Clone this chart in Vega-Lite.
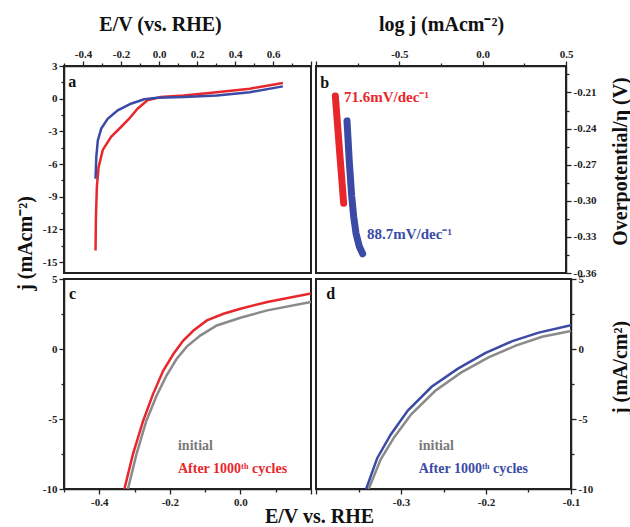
{
  "$schema": "https://vega.github.io/schema/vega-lite/v6.json",
  "padding": {"left": 14, "top": 13, "right": 2, "bottom": 0},
  "background": "white",
  "bounds": "flush",
  "align": "each",
  "columns": 2,
  "spacing": {"row": 6, "column": 5},
  "config": {
    "view": {"stroke": "#222", "strokeWidth": 2},
    "axis": {
      "labelFont": "Liberation Serif", "labelFontWeight": "bold", "labelFontSize": 11, "labelColor": "#222",
      "titleFont": "Liberation Serif", "titleFontWeight": "bold", "titleFontSize": 20, "titleColor": "#111",
      "grid": false, "domainColor": "#222", "domainWidth": 1.5, "tickColor": "#222", "tickWidth": 1.3,
      "labelOverlap": false, "labelFlush": false, "labelPadding": 2
    },
    "text": {"font": "Liberation Serif", "fontWeight": "bold"}
  },
  "datasets": {
    "a": [
      {"series": "A", "E": -0.334, "j": -13.93},
      {"series": "A", "E": -0.332, "j": -10.9},
      {"series": "A", "E": -0.327, "j": -8.1},
      {"series": "A", "E": -0.318, "j": -6.3},
      {"series": "A", "E": -0.296, "j": -4.7},
      {"series": "A", "E": -0.252, "j": -3.5},
      {"series": "A", "E": -0.2, "j": -2.6},
      {"series": "A", "E": -0.157, "j": -1.84},
      {"series": "A", "E": -0.113, "j": -0.92},
      {"series": "A", "E": -0.061, "j": -0.15},
      {"series": "A", "E": 0.009, "j": 0.15},
      {"series": "A", "E": 0.13, "j": 0.3},
      {"series": "A", "E": 0.304, "j": 0.6},
      {"series": "A", "E": 0.478, "j": 0.92},
      {"series": "A", "E": 0.652, "j": 1.44},
      {"series": "B", "E": -0.334, "j": -7.35},
      {"series": "B", "E": -0.33, "j": -5.36},
      {"series": "B", "E": -0.322, "j": -3.83},
      {"series": "B", "E": -0.304, "j": -2.75},
      {"series": "B", "E": -0.27, "j": -1.84},
      {"series": "B", "E": -0.217, "j": -1.07},
      {"series": "B", "E": -0.148, "j": -0.46},
      {"series": "B", "E": -0.078, "j": -0.06},
      {"series": "B", "E": -0.009, "j": 0.09},
      {"series": "B", "E": 0.13, "j": 0.15},
      {"series": "B", "E": 0.304, "j": 0.3},
      {"series": "B", "E": 0.478, "j": 0.6},
      {"series": "B", "E": 0.652, "j": 1.13}
    ],
    "b": [
      {"series": "A", "logj": -0.884, "eta": -0.213},
      {"series": "A", "logj": -0.859, "eta": -0.258},
      {"series": "A", "logj": -0.834, "eta": -0.302},
      {"series": "B", "logj": -0.814, "eta": -0.2336},
      {"series": "B", "logj": -0.8, "eta": -0.268},
      {"series": "B", "logj": -0.786, "eta": -0.296},
      {"series": "B", "logj": -0.774, "eta": -0.313},
      {"series": "B", "logj": -0.76, "eta": -0.327},
      {"series": "B", "logj": -0.74, "eta": -0.338},
      {"series": "B", "logj": -0.72, "eta": -0.344}
    ],
    "c": [
      {"series": "A initial", "E": -0.319, "j": -10.02},
      {"series": "A initial", "E": -0.295, "j": -7.55},
      {"series": "A initial", "E": -0.267, "j": -5.16},
      {"series": "A initial", "E": -0.238, "j": -3.36},
      {"series": "A initial", "E": -0.21, "j": -1.92},
      {"series": "A initial", "E": -0.181, "j": -0.72},
      {"series": "A initial", "E": -0.152, "j": 0.17},
      {"series": "A initial", "E": -0.114, "j": 0.96},
      {"series": "A initial", "E": -0.067, "j": 1.68},
      {"series": "A initial", "E": 0.0, "j": 2.23},
      {"series": "A initial", "E": 0.076, "j": 2.76},
      {"series": "A initial", "E": 0.2, "j": 3.36},
      {"series": "A after", "E": -0.329, "j": -10.02},
      {"series": "A after", "E": -0.305, "j": -7.55},
      {"series": "A after", "E": -0.276, "j": -5.16},
      {"series": "A after", "E": -0.248, "j": -3.24},
      {"series": "A after", "E": -0.219, "j": -1.56},
      {"series": "A after", "E": -0.19, "j": -0.36},
      {"series": "A after", "E": -0.162, "j": 0.6},
      {"series": "A after", "E": -0.133, "j": 1.32},
      {"series": "A after", "E": -0.095, "j": 2.04},
      {"series": "A after", "E": -0.048, "j": 2.52},
      {"series": "A after", "E": 0.0, "j": 2.88},
      {"series": "A after", "E": 0.076, "j": 3.36},
      {"series": "A after", "E": 0.2, "j": 3.96}
    ],
    "d": [
      {"series": "B initial", "E": -0.338, "j": -10.0},
      {"series": "B initial", "E": -0.324, "j": -7.9},
      {"series": "B initial", "E": -0.308, "j": -6.3},
      {"series": "B initial", "E": -0.288, "j": -4.66},
      {"series": "B initial", "E": -0.26, "j": -3.0},
      {"series": "B initial", "E": -0.229, "j": -1.67},
      {"series": "B initial", "E": -0.197, "j": -0.6},
      {"series": "B initial", "E": -0.165, "j": 0.24},
      {"series": "B initial", "E": -0.134, "j": 0.87},
      {"series": "B initial", "E": -0.1, "j": 1.29},
      {"series": "B after", "E": -0.341, "j": -10.0},
      {"series": "B after", "E": -0.328, "j": -7.8},
      {"series": "B after", "E": -0.312, "j": -6.1},
      {"series": "B after", "E": -0.292, "j": -4.4},
      {"series": "B after", "E": -0.264, "j": -2.7},
      {"series": "B after", "E": -0.233, "j": -1.4},
      {"series": "B after", "E": -0.201, "j": -0.3},
      {"series": "B after", "E": -0.169, "j": 0.56},
      {"series": "B after", "E": -0.138, "j": 1.17},
      {"series": "B after", "E": -0.1, "j": 1.7}
    ],
    "labels_a": [{"text": "a", "E": -0.478, "j": 1.55}],
    "labels_b": [
      {"text": "b", "logj": -0.975, "eta": -0.202, "kind": "panel"},
      {"text": "71.6mV/dec⁻¹", "logj": -0.832, "eta": -0.2135, "kind": "A"},
      {"text": "88.7mV/dec⁻¹", "logj": -0.694, "eta": -0.3276, "kind": "B"}
    ],
    "labels_c": [
      {"text": "c", "E": -0.486, "j": 3.93, "kind": "panel"},
      {"text": "initial", "E": -0.177, "j": -6.93, "kind": "initial"},
      {"text": "After 1000ᵗʰ cycles", "E": -0.177, "j": -8.57, "kind": "after"}
    ],
    "labels_d": [
      {"text": "d", "E": -0.388, "j": 3.93, "kind": "panel"},
      {"text": "initial", "E": -0.279, "j": -6.93, "kind": "initial"},
      {"text": "After 1000ᵗʰ cycles", "E": -0.279, "j": -8.57, "kind": "after"}
    ]
  },
  "concat": [
    {
      "width": 247, "height": 207,
      "encoding": {
        "x": {"field": "E", "type": "quantitative", "scale": {"domain": [-0.5, 0.8], "nice": false, "zero": false},
          "axis": {"orient": "top", "title": "E/V (vs. RHE)", "titleX": 96, "titleY": -42, "titleBaseline": "middle",
            "values": [-0.5, -0.4, -0.3, -0.2, -0.1, 0, 0.1, 0.2, 0.3, 0.4, 0.5, 0.6, 0.7, 0.8],
            "labelExpr": "abs(round(datum.value*10))%2==0 && datum.value<0.75 ? replace(format(datum.value,'.1f'),'−','-') : ''",
            "tickSize": {"condition": {"test": "abs(round(datum.value*10))%2==0", "value": 5}, "value": 3}}},
        "y": {"field": "j", "type": "quantitative", "scale": {"domain": [-16, 3], "nice": false, "zero": false},
          "axis": {"orient": "left", "title": "j (mAcm⁻²)", "titleX": -39, "titleY": 177, "titleBaseline": "middle", "titleAngle": 270,
            "values": [3, 1.5, 0, -1.5, -3, -4.5, -6, -7.5, -9, -10.5, -12, -13.5, -15],
            "labelExpr": "abs(round(datum.value*2))%6==0 ? replace(format(datum.value,'d'),'−','-') : ''",
            "tickSize": {"condition": {"test": "abs(round(datum.value*2))%6==0", "value": 5}, "value": 3}}}
      },
      "layer": [
        {
          "data": {"name": "a"},
          "mark": {"type": "line", "strokeWidth": 2.5, "clip": true},
          "encoding": {
            "color": {"field": "series", "type": "nominal", "legend": null,
              "scale": {"domain": ["A", "B", "A initial", "A after", "B initial", "B after"], "range": ["#e8272c", "#3b4ba5", "#8a8a8a", "#e8272c", "#8a8a8a", "#3b4ba5"]}}
          }
        },
        {
          "data": {"name": "labels_a"},
          "mark": {"type": "text", "align": "left", "baseline": "middle", "fontSize": 16, "color": "#111"},
          "encoding": {"text": {"field": "text"}}
        }
      ]
    },
    {
      "width": 250, "height": 207,
      "encoding": {
        "x": {"field": "logj", "type": "quantitative", "scale": {"domain": [-1, 0.5], "nice": false, "zero": false},
          "axis": {"orient": "top", "title": "log j (mAcm⁻²)", "titleX": 125, "titleY": -42, "titleBaseline": "middle",
            "values": [-1, -0.75, -0.5, -0.25, 0, 0.25, 0.5],
            "labelExpr": "abs(round(datum.value*4))%2==0 && datum.value>-0.9 ? replace(format(datum.value,'.1f'),'−','-') : ''",
            "tickSize": {"condition": {"test": "abs(round(datum.value*4))%2==0", "value": 5}, "value": 3}}},
        "y": {"field": "eta", "type": "quantitative", "scale": {"domain": [-0.36, -0.188], "nice": false, "zero": false},
          "axis": {"orient": "right", "title": "Overpotential/η (V)", "titleX": 54, "titleY": 95, "titleBaseline": "middle", "titleAngle": 270,
            "values": [-0.36, -0.345, -0.33, -0.315, -0.3, -0.285, -0.27, -0.255, -0.24, -0.225, -0.21, -0.195],
            "labelExpr": "abs(round(datum.value*1000/15))%2==0 ? replace(format(datum.value,'.2f'),'−','-') : ''",
            "tickSize": {"condition": {"test": "abs(round(datum.value*1000/15))%2==0", "value": 5}, "value": 3}}}
      },
      "layer": [
        {
          "data": {"name": "b"},
          "mark": {"type": "line", "strokeWidth": 7, "strokeCap": "round", "strokeJoin": "round", "clip": true},
          "encoding": {
            "color": {"field": "series", "type": "nominal", "legend": null,
              "scale": {"domain": ["A", "B", "A initial", "A after", "B initial", "B after"], "range": ["#e8272c", "#3b4ba5", "#8a8a8a", "#e8272c", "#8a8a8a", "#3b4ba5"]}}
          }
        },
        {
          "data": {"name": "labels_b"},
          "mark": {"type": "text", "align": "left", "baseline": "middle"},
          "encoding": {
            "text": {"field": "text"},
            "size": {"condition": {"test": "datum.kind=='panel'", "value": 16}, "value": 15},
            "color": {"condition": [{"test": "datum.kind=='A'", "value": "#e8272c"}, {"test": "datum.kind=='B'", "value": "#3b4ba5"}], "value": "#111"}
          }
        }
      ]
    },
    {
      "width": 247, "height": 210,
      "encoding": {
        "x": {"field": "E", "type": "quantitative", "scale": {"domain": [-0.5, 0.2], "nice": false, "zero": false},
          "axis": {"orient": "bottom", "title": "E/V vs. RHE", "titleX": 255, "titleY": 27, "titleBaseline": "middle",
            "values": [-0.5, -0.4, -0.3, -0.2, -0.1, 0, 0.1, 0.2],
            "labelExpr": "abs(round(datum.value*10))%2==0 && datum.value<0.15 ? replace(format(datum.value,'.1f'),'−','-') : ''",
            "tickSize": {"condition": {"test": "abs(round(datum.value*10))%2==0", "value": 5}, "value": 3}}},
        "y": {"field": "j", "type": "quantitative", "scale": {"domain": [-10, 5], "nice": false, "zero": false},
          "axis": {"orient": "left", "title": null,
            "values": [5, 2.5, 0, -2.5, -5, -7.5, -10],
            "labelExpr": "abs(round(datum.value*2))%10==0 ? replace(format(datum.value,'d'),'−','-') : ''",
            "tickSize": {"condition": {"test": "abs(round(datum.value*2))%10==0", "value": 5}, "value": 3}}}
      },
      "layer": [
        {
          "data": {"name": "c"},
          "mark": {"type": "line", "strokeWidth": 2.5, "clip": true},
          "encoding": {
            "color": {"field": "series", "type": "nominal", "legend": null,
              "scale": {"domain": ["A", "B", "A initial", "A after", "B initial", "B after"], "range": ["#e8272c", "#3b4ba5", "#8a8a8a", "#e8272c", "#8a8a8a", "#3b4ba5"]}}
          }
        },
        {
          "data": {"name": "labels_c"},
          "mark": {"type": "text", "align": "left", "baseline": "middle"},
          "encoding": {
            "text": {"field": "text"},
            "size": {"condition": {"test": "datum.kind=='panel'", "value": 16}, "value": 14},
            "color": {"condition": [{"test": "datum.kind=='after'", "value": "#e8272c"}, {"test": "datum.kind=='initial'", "value": "#7a7a7a"}], "value": "#111"}
          }
        }
      ]
    },
    {
      "width": 255, "height": 210,
      "encoding": {
        "x": {"field": "E", "type": "quantitative", "scale": {"domain": [-0.4, -0.1], "nice": false, "zero": false},
          "axis": {"orient": "bottom", "title": null,
            "values": [-0.4, -0.35, -0.3, -0.25, -0.2, -0.15, -0.1],
            "labelExpr": "abs(round(datum.value*20))%2==0 && datum.value>-0.38 ? replace(format(datum.value,'.1f'),'−','-') : ''",
            "tickSize": {"condition": {"test": "abs(round(datum.value*20))%2==0", "value": 5}, "value": 3}}},
        "y": {"field": "j", "type": "quantitative", "scale": {"domain": [-10, 5], "nice": false, "zero": false},
          "axis": {"orient": "right", "title": "j (mA/cm²)", "titleX": 49, "titleY": 88, "titleBaseline": "middle", "titleAngle": 270,
            "values": [5, 2.5, 0, -2.5, -5, -7.5, -10],
            "labelExpr": "abs(round(datum.value*2))%10==0 ? replace(format(datum.value,'d'),'−','-') : ''",
            "tickSize": {"condition": {"test": "abs(round(datum.value*2))%10==0", "value": 5}, "value": 3}}}
      },
      "layer": [
        {
          "data": {"name": "d"},
          "mark": {"type": "line", "strokeWidth": 2.5, "clip": true},
          "encoding": {
            "color": {"field": "series", "type": "nominal", "legend": null,
              "scale": {"domain": ["A", "B", "A initial", "A after", "B initial", "B after"], "range": ["#e8272c", "#3b4ba5", "#8a8a8a", "#e8272c", "#8a8a8a", "#3b4ba5"]}}
          }
        },
        {
          "data": {"name": "labels_d"},
          "mark": {"type": "text", "align": "left", "baseline": "middle"},
          "encoding": {
            "text": {"field": "text"},
            "size": {"condition": {"test": "datum.kind=='panel'", "value": 16}, "value": 14},
            "color": {"condition": [{"test": "datum.kind=='after'", "value": "#3b4ba5"}, {"test": "datum.kind=='initial'", "value": "#7a7a7a"}], "value": "#111"}
          }
        }
      ]
    }
  ]
}
